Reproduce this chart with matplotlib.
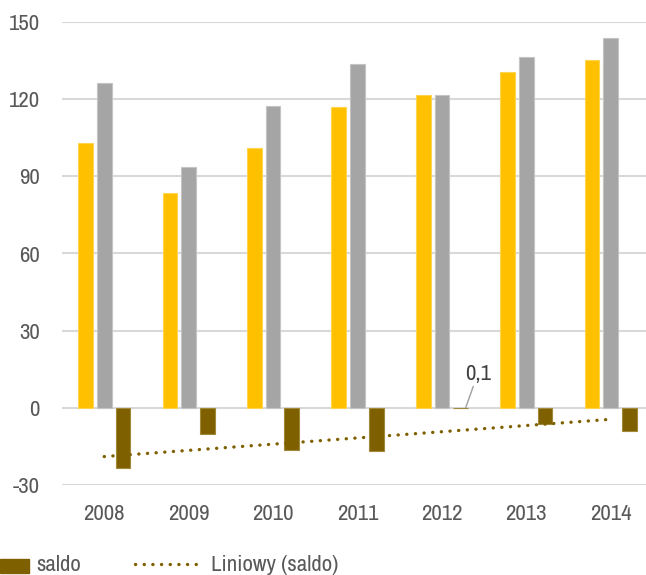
import numpy as np
import matplotlib
matplotlib.use("Agg")
import matplotlib.pyplot as plt
from matplotlib.patches import Rectangle
from matplotlib.lines import Line2D
from matplotlib import font_manager as fm

years = ["2008", "2009", "2010", "2011", "2012", "2013", "2014"]
eksport = [103.1, 83.5, 101.2, 117.1, 121.7, 130.7, 135.1]
import_ = [126.3, 93.6, 117.5, 133.8, 121.6, 136.5, 143.7]
saldo = [-23.4, -10.3, -16.2, -16.8, 0.1, -6.4, -8.9]
yticks = [-30, 0, 30, 60, 90, 120, 150]

names = {f.name for f in fm.fontManager.ttflist}
fam = next((n for n in ["Liberation Sans Narrow", "Arial Narrow", "Archivo Narrow", "Liberation Sans"]
            if n in names), "DejaVu Sans")
plt.rcParams["font.family"] = [fam, "DejaVu Sans"]
FS = 16.5

W, H = 646, 575
fig = plt.figure(figsize=(W / 100, H / 100), dpi=100)
# plot area extends slightly beyond the right image edge (as in reference)
ax = fig.add_axes([62 / W, (H - 485) / H, 591 / W, (485 - 22) / H])

x = np.arange(len(years))
bw = 0.175
off = 0.222
c_y, c_g, c_b = "#FFC000", "#A5A5A5", "#7F6000"
ax.bar(x - off, eksport, bw, color=c_y, edgecolor="#FFD54F", linewidth=0.8, zorder=3)
ax.bar(x, import_, bw, color=c_g, edgecolor="#C4C4C4", linewidth=0.8, zorder=3)
ax.bar(x + off, saldo, bw, color=c_b, edgecolor="#A08A3A", linewidth=0.8, zorder=3)

# linear trend of saldo
k, b = np.polyfit(x, saldo, 1)
dots = (0, (0.05, 2.55))
ax.plot(x, k * x + b, color=c_b, lw=2.4, linestyle=dots,
        dash_capstyle="round", zorder=4)

# data label with leader line
ax.annotate("0,1", xy=(x[4] + off + 0.06, saldo[4]), xytext=(x[4] + 0.425, 13.3),
            ha="center", va="center", fontsize=FS, color="#404040",
            arrowprops=dict(arrowstyle="-", color="#A6A6A6", lw=1.1,
                            shrinkA=0, shrinkB=0), zorder=5)

ax.set_xlim(-0.5, len(years) - 0.5)
ax.set_ylim(-30, 150)
ax.set_yticks(yticks)
ax.set_yticklabels([str(t) for t in yticks])
ax.set_xticks(x)
ax.set_xticklabels(years)
ax.yaxis.grid(True, color="#D9D9D9", lw=1.5, zorder=0)
ax.set_axisbelow(True)
for s in ax.spines.values():
    s.set_visible(False)
ax.tick_params(axis="both", length=0, labelsize=FS, labelcolor="#595959")
ax.tick_params(axis="y", pad=16)
ax.tick_params(axis="x", pad=14)

# legend (manual, as in reference - left part cropped)
def fx(px):
    return px / W
def fy(py):
    return (H - py) / H

fig.patches.append(Rectangle((fx(0), fy(573)), fx(29), (573 - 559) / H,
                             transform=fig.transFigure, color=c_b))
fig.text(fx(36), fy(571), "saldo", fontsize=FS, color="#595959", va="baseline")
fig.lines.append(Line2D([fx(135), fx(203)], [fy(564), fy(564)], transform=fig.transFigure,
                        color=c_b, lw=2.4, linestyle=dots, dash_capstyle="round"))
fig.text(fx(211), fy(571), "Liniowy (saldo)", fontsize=FS, color="#595959", va="baseline")

fig.savefig("out.png", dpi=100)
